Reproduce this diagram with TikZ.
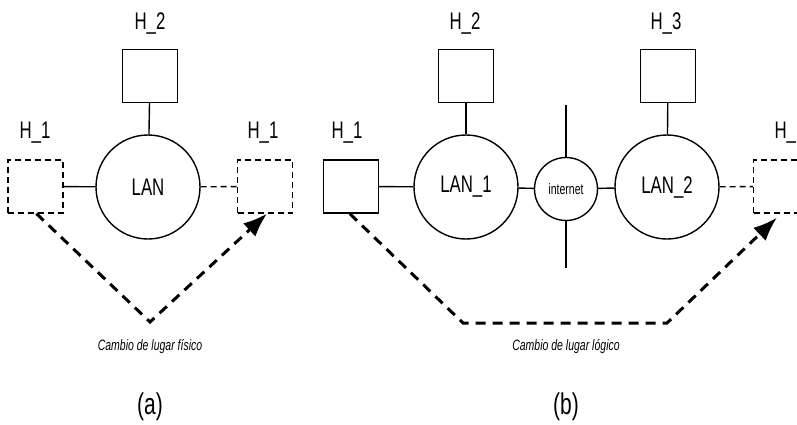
\documentclass[tikz,border=0pt]{standalone}
\usepackage{fontspec}
\setmainfont{Liberation Sans}[FakeStretch=0.7]
\usetikzlibrary{arrows.meta}
\tikzset{
  host/.style={draw, line width=1.4pt, minimum width=55pt, minimum height=53pt, inner sep=0pt},
  ghost/.style={host, line width=1.2pt, dash pattern=on 6pt off 4pt},
  lan/.style={draw, circle, line width=1.4pt, minimum size=104pt, inner sep=0pt, font=\fontsize{24}{24}\selectfont},
  inetnode/.style={draw, circle, line width=1.4pt, minimum size=63pt, inner sep=0pt, font=\fontsize{15}{15}\selectfont},
  lbl/.style={font=\fontsize{24}{24}\selectfont},
  link/.style={line width=1.4pt},
  dlink/.style={line width=1.4pt, dash pattern=on 6pt off 4pt},
  move/.style={line width=3pt, dash pattern=on 10pt off 7pt, -{Latex[length=24pt,width=18pt]}},
  captxt/.style={font=\itshape\fontsize{15}{15}\selectfont},
  subtxt/.style={font=\fontsize{30}{30}\selectfont}
}
\begin{document}
\begin{tikzpicture}[x=1pt,y=-1pt]
\useasboundingbox[fill=white] (0,0) rectangle (797,424);
% ---------- (a) ----------
\node[host] (a2) at (150,76) {};
\node[lbl] (a2l) at (150,24) {H\_2};
\node[lan] (alan) at (148,187) {LAN};
\node[ghost] (a1) at (35.5,186.5) {};
\node[lbl] (a1l) at (35,133) {H\_1};
\node[ghost] (a1r) at (265,186.5) {};
\node[lbl] (a1rl) at (263,133) {H\_1};
\draw[link] (a2) -- (alan);
\draw[link] (a1) -- (alan);
\draw[dlink] (alan) -- (a1r);
\coordinate (av) at (150,322);
\draw[move] ([xshift=29pt]a1.south west) -- (av) -- ([xshift=2pt]a1r.south);
\node[captxt] (acap) at (150,347) {Cambio de lugar físico};
\node[subtxt] (asub) at (150,407) {(a)};
% ---------- (b) ----------
\node[host] (b2) at (466,76) {};
\node[lbl] (b2l) at (465,24) {H\_2};
\node[lan] (lan1) at (466,187) {LAN\_1};
\node[host] (b1) at (351,186.5) {};
\node[lbl] (b1l) at (347,133) {H\_1};
\node[inetnode] (inet) at (566,189) {internet};
\node[lan] (lan2) at (667,187) {LAN\_2};
\node[host] (b3) at (668,76) {};
\node[lbl] (b3l) at (666,24) {H\_3};
\node[ghost] (b1r) at (781,186.5) {};
\node[lbl] (b1rl) at (790,133) {H\_1};
\coordinate (itop) at (566,105);
\coordinate (ibot) at (566,268);
\draw[link] (itop) -- (inet);
\draw[link] (inet) -- (ibot);
\draw[link] (b2) -- (lan1);
\draw[link] (b3) -- (lan2);
\draw[link] (b1) -- (lan1);
\draw[link] (lan1) -- (inet);
\draw[link] (inet) -- (lan2);
\draw[dlink] (lan2) -- (b1r);
\coordinate (bv1) at (463,323);
\coordinate (bv2) at (667,323);
\draw[move] ([xshift=27pt]b1.south west) -- (bv1) -- (bv2) -- ([xshift=24pt,yshift=-4pt]b1r.south west);
\node[captxt] (bcap) at (566,347) {Cambio de lugar lógico};
\node[subtxt] (bsub) at (566,407) {(b)};
\end{tikzpicture}
\end{document}
